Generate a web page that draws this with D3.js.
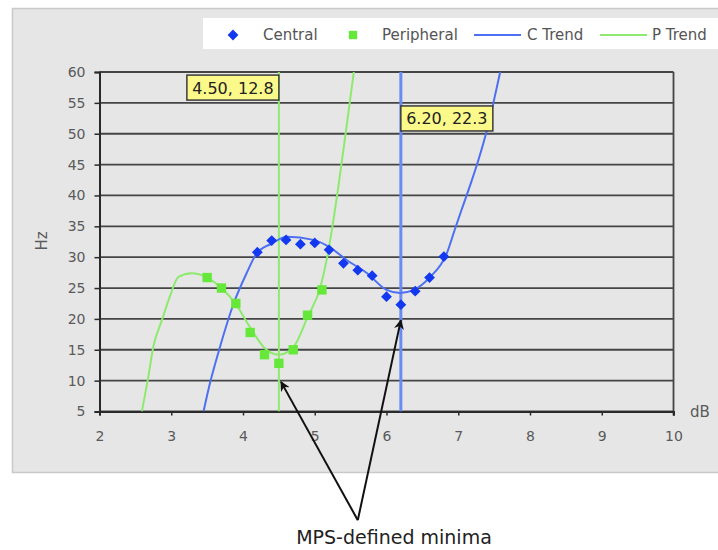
<!DOCTYPE html>
<html>
<head>
<meta charset="utf-8">
<script src="https://cdn.jsdelivr.net/npm/d3@7"></script>
<style>
  body { margin: 0; background: #fff; }
  text { font-family: "DejaVu Sans", sans-serif; }
</style>
</head>
<body>
<div class="canvas"></div>
<script>
// data
const centralX = [4.2, 4.4, 4.6, 4.8, 5.0, 5.2, 5.4, 5.6, 5.8, 6.0, 6.2, 6.4, 6.6, 6.8];
const centralY = [30.8, 32.7, 32.8, 32.1, 32.3, 31.2, 29.0, 27.9, 27.0, 23.6, 22.3, 24.5, 26.7, 30.1];

const peripheralX = [3.5, 3.7, 3.9, 4.1, 4.3, 4.5, 4.7, 4.9, 5.1];
const peripheralY = [26.7, 25.0, 22.5, 17.8, 14.2, 12.8, 15.0, 20.6, 24.7];

// trend lines (traced)
const cTrendX = [3.45, 3.54, 3.68, 3.87, 4.05, 4.19, 4.4, 4.61, 4.98, 5.21, 5.45, 5.73, 6.0, 6.19, 6.38, 6.61, 6.84, 6.95, 7.05, 7.17, 7.28, 7.4, 7.49, 7.59];
const cTrendY = [5, 9.6, 15.5, 22.5, 27.4, 30.6, 32.2, 33.3, 32.8, 31.6, 29.5, 27.4, 24.7, 24.2, 24.7, 26.8, 30.6, 34.4, 37.8, 41.8, 45.7, 50.6, 55.0, 60.3];

const pTrendX = [2.59, 2.68, 2.75, 2.87, 2.98, 3.1, 3.28, 3.5, 3.7, 3.9, 4.1, 4.3, 4.5, 4.7, 4.9, 5.08, 5.17, 5.24, 5.33, 5.43, 5.55];
const pTrendY = [5, 10.6, 15.5, 19.8, 23.6, 26.8, 27.4, 26.7, 25.0, 22.4, 18.6, 15.3, 14.2, 15.4, 20.3, 25.2, 29.8, 34.5, 41.5, 50.0, 60.5];

// MPS-defined minima
const minimaX = [4.5, 6.2];
const minimaY = [12.8, 22.3];
const minimaLabels = ["4.50, 12.8", "6.20, 22.3"];

const xTicks = [2, 3, 4, 5, 6, 7, 8, 9, 10];
const yTicks = [5, 10, 15, 20, 25, 30, 35, 40, 45, 50, 55, 60];

const legendLabels = ["Central", "Peripheral", "C Trend", "P Trend"];

const width = 718;
const height = 550;

const blue = "#1238f0";
const green = "#66e83a";
const cTrendColor = "#4d70f2";
const pTrendColor = "#8eea6e";

const svg = d3
  .select(".canvas")
  .append("svg")
  .attr("width", width)
  .attr("height", height);

// chart area
svg
  .append("rect")
  .attr("x", 12.5)
  .attr("y", 8.5)
  .attr("width", 720)
  .attr("height", 464)
  .attr("fill", "#e6e6e6")
  .attr("stroke", "#c9c9c9")
  .attr("stroke-width", 1.5);

const xScale = d3.scaleLinear().domain([2, 10]).range([99.5, 673.5]);
const yScale = d3.scaleLinear().domain([5, 60]).range([411.5, 72]);

// gridlines
svg
  .append("g")
  .selectAll("line")
  .data(yTicks)
  .enter()
  .append("line")
  .attr("x1", xScale(2))
  .attr("x2", xScale(10))
  .attr("y1", (d) => yScale(d))
  .attr("y2", (d) => yScale(d))
  .attr("stroke", "#454545")
  .attr("stroke-width", 1.8);

// right border
svg
  .append("line")
  .attr("x1", xScale(10))
  .attr("x2", xScale(10))
  .attr("y1", yScale(60))
  .attr("y2", yScale(5) + 4)
  .attr("stroke", "#454545")
  .attr("stroke-width", 1.8);

// axes
const yAxis = svg
  .append("g")
  .attr("transform", `translate(${xScale(2)},0)`)
  .call(d3.axisLeft(yScale).tickValues(yTicks).tickSize(5).tickPadding(9));

const xAxis = svg
  .append("g")
  .attr("transform", `translate(0,${yScale(5)})`)
  .call(d3.axisBottom(xScale).tickValues(xTicks).tickSize(4).tickPadding(16));

[xAxis, yAxis].forEach((ax) => {
  ax.select(".domain").attr("stroke", "#2a2a2a").attr("stroke-width", 2);
  ax.selectAll(".tick line").attr("stroke", "#2a2a2a").attr("stroke-width", 1.5);
  ax.selectAll(".tick text")
    .attr("fill", "#5a5a5a")
    .attr("font-size", 14)
    .attr("font-family", "DejaVu Sans, sans-serif");
});

// axis titles
svg
  .append("text")
  .text("Hz")
  .attr("transform", "translate(47,241) rotate(-90)")
  .attr("text-anchor", "middle")
  .attr("fill", "#5a5a5a")
  .attr("font-size", 15);

svg
  .append("text")
  .text("dB")
  .attr("x", 690)
  .attr("y", 417)
  .attr("fill", "#5a5a5a")
  .attr("font-size", 15);

// clip for trend lines
svg
  .append("clipPath")
  .attr("id", "plotClip")
  .append("rect")
  .attr("x", xScale(2))
  .attr("y", yScale(60))
  .attr("width", xScale(10) - xScale(2))
  .attr("height", yScale(5) - yScale(60));

const plot = svg.append("g").attr("clip-path", "url(#plotClip)");

const line = d3
  .line()
  .x((d) => xScale(d[0]))
  .y((d) => yScale(d[1]))
  .curve(d3.curveMonotoneX);

// minima vertical lines
plot
  .append("line")
  .attr("x1", xScale(minimaX[0]))
  .attr("x2", xScale(minimaX[0]))
  .attr("y1", yScale(60))
  .attr("y2", yScale(5))
  .attr("stroke", pTrendColor)
  .attr("stroke-width", 2);

plot
  .append("line")
  .attr("x1", xScale(minimaX[1]))
  .attr("x2", xScale(minimaX[1]))
  .attr("y1", yScale(60))
  .attr("y2", yScale(5))
  .attr("stroke", "#6a8cf2")
  .attr("stroke-width", 3);

plot
  .append("path")
  .attr("d", line(d3.zip(pTrendX, pTrendY)))
  .attr("fill", "none")
  .attr("stroke", pTrendColor)
  .attr("stroke-width", 2);

plot
  .append("path")
  .attr("d", line(d3.zip(cTrendX, cTrendY)))
  .attr("fill", "none")
  .attr("stroke", cTrendColor)
  .attr("stroke-width", 2);

// markers
const diamond = d3.symbol().type(d3.symbolSquare).size(58);
const square = d3.symbol().type(d3.symbolSquare).size(88);

svg
  .append("g")
  .selectAll("path")
  .data(d3.zip(peripheralX, peripheralY))
  .enter()
  .append("path")
  .attr("d", square)
  .attr("transform", (d) => `translate(${xScale(d[0])},${yScale(d[1])})`)
  .attr("fill", green);

svg
  .append("g")
  .selectAll("path")
  .data(d3.zip(centralX, centralY))
  .enter()
  .append("path")
  .attr("d", diamond)
  .attr("transform", (d) => `translate(${xScale(d[0])},${yScale(d[1])}) rotate(45)`)
  .attr("fill", blue);

// minima labels (first box sits left of its line, second to the right)
const boxTops = [59.5, 54.5];
const boxW = 92;
const boxH = 25;
for (let i = 0; i < minimaX.length; i++) {
  const bx = i === 0 ? xScale(minimaX[i]) - boxW : xScale(minimaX[i]);
  const by = yScale(boxTops[i]);
  svg
    .append("rect")
    .attr("x", bx)
    .attr("y", by)
    .attr("width", boxW)
    .attr("height", boxH)
    .attr("fill", "#fbf98a")
    .attr("stroke", "#3a3a3a")
    .attr("stroke-width", 1.5);
  svg
    .append("text")
    .text(minimaLabels[i])
    .attr("x", bx + boxW / 2)
    .attr("y", by + 18.5)
    .attr("text-anchor", "middle")
    .attr("fill", "#222")
    .attr("font-size", 16);
}

// legend
svg
  .append("rect")
  .attr("x", 203)
  .attr("y", 18)
  .attr("width", 520)
  .attr("height", 31)
  .attr("fill", "#fff");

const legendY = 35;
svg
  .append("path")
  .attr("d", diamond)
  .attr("transform", `translate(233,${legendY}) rotate(45)`)
  .attr("fill", blue);
svg
  .append("path")
  .attr("d", d3.symbol().type(d3.symbolSquare).size(70))
  .attr("transform", `translate(353,${legendY})`)
  .attr("fill", green);
svg
  .append("line")
  .attr("x1", 474)
  .attr("x2", 521)
  .attr("y1", legendY)
  .attr("y2", legendY)
  .attr("stroke", cTrendColor)
  .attr("stroke-width", 2);
svg
  .append("line")
  .attr("x1", 600)
  .attr("x2", 647)
  .attr("y1", legendY)
  .attr("y2", legendY)
  .attr("stroke", pTrendColor)
  .attr("stroke-width", 2);

const legendTextX = [263, 382, 527, 652];
legendLabels.forEach((lab, i) => {
  svg
    .append("text")
    .text(lab)
    .attr("x", legendTextX[i])
    .attr("y", legendY + 5)
    .attr("fill", "#555")
    .attr("font-size", 15);
});

// annotation arrows
svg
  .append("defs")
  .append("marker")
  .attr("id", "arrow")
  .attr("viewBox", "0 0 10 10")
  .attr("refX", 9)
  .attr("refY", 5)
  .attr("markerWidth", 5)
  .attr("markerHeight", 5)
  .attr("orient", "auto")
  .append("path")
  .attr("d", "M0,0 L10,5 L0,10 L3,5 Z")
  .attr("fill", "#111");

const arrowBase = [5.6, -12.6];
const arrowTips = [
  [4.53, 9.8],
  [6.2, 19.8],
];
arrowTips.forEach((t) => {
  svg
    .append("line")
    .attr("x1", xScale(arrowBase[0]))
    .attr("y1", yScale(arrowBase[1]))
    .attr("x2", xScale(t[0]))
    .attr("y2", yScale(t[1]))
    .attr("stroke", "#111")
    .attr("stroke-width", 2)
    .attr("marker-end", "url(#arrow)");
});

svg
  .append("text")
  .text("MPS-defined minima")
  .attr("x", 394)
  .attr("y", 544)
  .attr("text-anchor", "middle")
  .attr("fill", "#222")
  .attr("font-size", 19);
</script>
</body>
</html>
